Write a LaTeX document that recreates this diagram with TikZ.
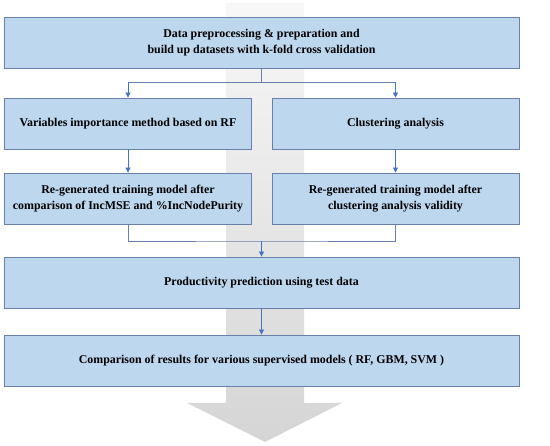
\documentclass[tikz,border=0pt]{standalone}
\usepackage{fontspec}
\setmainfont{Liberation Serif}
\usetikzlibrary{arrows.meta}
\definecolor{boxfill}{HTML}{BDD7EE}
\definecolor{boxline}{HTML}{6A80AA}
\definecolor{arrblue}{HTML}{4472C4}
\tikzset{
  stepbox/.style={draw=boxline, line width=0.9pt, fill=boxfill, align=center,
    font=\bfseries\fontsize{11.9}{16}\selectfont, inner sep=0pt},
  wide/.style={stepbox, minimum width=515pt, minimum height=51pt},
  half/.style={stepbox, minimum width=247pt, minimum height=51pt},
  conn/.style={draw=boxline, line width=0.9pt},
  arr/.style={draw=arrblue, line width=0.9pt, -{Triangle[width=5pt,length=5pt]}}
}
\begin{document}
\begin{tikzpicture}[x=1pt,y=-1pt]
\useasboundingbox (0,0) rectangle (550,446);
\shade[top color=gray!6, bottom color=gray!33]
  (226,3) -- (304,3) -- (304,403) -- (342,403) -- (265,442) -- (187,403) -- (226,403) -- cycle;
\node[wide] (b1) at (261.5,43) {Data preprocessing \& preparation and\\build up datasets with k-fold cross validation};
\node[half] (l2) at (128,123.5) {Variables importance method based on RF};
\node[half] (r2) at (395.5,123.5) {Clustering analysis};
\node[half] (l3) at (128,198.5) {Re-generated training model after\\comparison of IncMSE and \%IncNodePurity};
\node[half] (r3) at (395.5,198.5) {Re-generated training model after\\clustering analysis validity};
\node[wide] (b4) at (261.5,282.5) {Productivity prediction using test data};
\node[wide] (b5) at (261.5,360.5) {Comparison of results for various supervised models ( RF, GBM, SVM )};
\coordinate (s1) at (261.5,82);
\coordinate (m1) at (261.5,241);
\draw[conn] (b1.south) -- (s1);
\draw[conn] (l2.north |- s1) -- (r2.north |- s1);
\draw[arr] (l2.north |- s1) -- (l2.north);
\draw[arr] (r2.north |- s1) -- (r2.north);
\draw[arr] (l2.south) -- (l3.north);
\draw[arr] (r2.south) -- (r3.north);
\draw[conn] (l3.south) |- (m1) -| (r3.south);
\draw[arr] (m1) -- (b4.north);
\draw[arr] (b4.south) -- (b5.north);
\end{tikzpicture}
\end{document}
